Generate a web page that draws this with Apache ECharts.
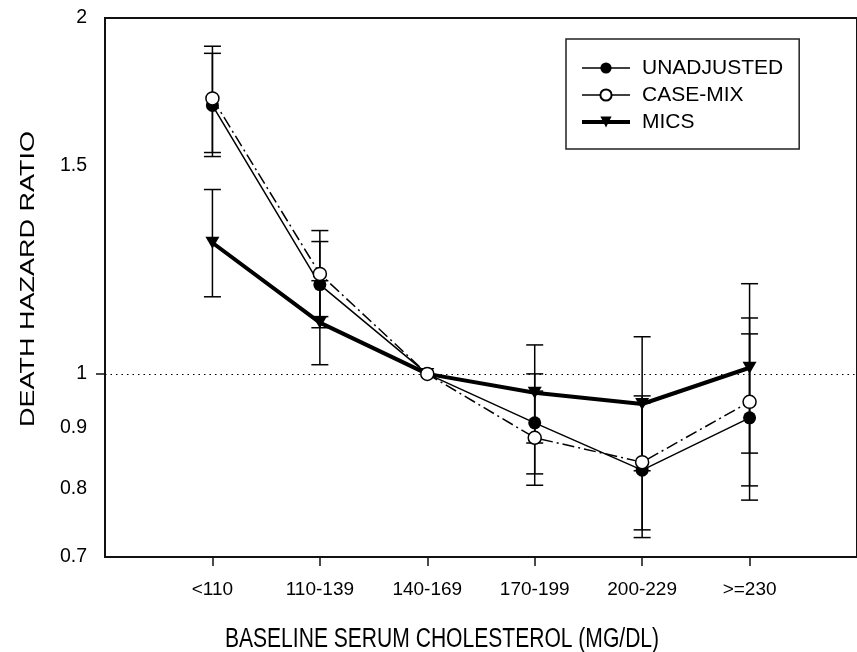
<!DOCTYPE html>
<html lang="en">
<head>
    <meta charset="UTF-8">
    <title>Death hazard ratio</title>
    <script src="https://cdn.jsdelivr.net/npm/echarts@6/dist/echarts.min.js"></script>
    <style>
        html, body { margin: 0; padding: 0; background: #fff; }
    </style>
</head>
<body>
<div id="main" style="width: 857px;height:652px;"></div>
<script>
    var categories = ['<110', '110-139', '140-169', '170-199', '200-229', '>=230'];
    var yTicks = [0.7, 0.8, 0.9, 1, 1.5, 2];

    var unadjusted = [1.687, 1.190, 1.0, 0.909, 0.829, 0.918];
    var unadjLow = [1.527, 1.094, null, 0.823, 0.727, 0.782];
    var unadjHigh = [1.867, 1.294, null, 1.0, 0.945, 1.081];

    var caseMix = [1.710, 1.215, 1.0, 0.883, 0.842, 0.947];
    var caseLow = [1.539, 1.118, null, 0.805, 0.738, 0.804];
    var caseHigh = [1.893, 1.322, null, 0.967, 0.958, 1.115];

    var mics = [1.291, 1.105, 1.0, 0.964, 0.943, 1.012];
    var micsLow = [1.162, 1.018, null, 0.874, 0.828, 0.857];
    var micsHigh = [1.432, 1.199, null, 1.058, 1.075, 1.192];

    var font = "'Liberation Sans', Arial, sans-serif";

    function points(vals) {
        var arr = [];
        for (var i = 0; i < vals.length; i++) {
            arr.push([i + 1, vals[i]]);
        }
        return arr;
    }

    function bars(lo, hi) {
        var arr = [];
        for (var i = 0; i < lo.length; i++) {
            if (lo[i] != null) arr.push([i + 1, lo[i], hi[i]]);
        }
        return arr;
    }

    // vertical bar with caps at both ends
    function errorBar(params, api) {
        var top = api.coord([api.value(0), api.value(2)]);
        var bot = api.coord([api.value(0), api.value(1)]);
        var w = 8.5;
        var st = {stroke: '#000', lineWidth: 1.5};
        return {
            type: 'group',
            children: [
                {type: 'line', shape: {x1: top[0], y1: top[1], x2: bot[0], y2: bot[1]}, style: st},
                {type: 'line', shape: {x1: top[0] - w, y1: top[1], x2: top[0] + w, y2: top[1]}, style: st},
                {type: 'line', shape: {x1: bot[0] - w, y1: bot[1], x2: bot[0] + w, y2: bot[1]}, style: st}
            ]
        };
    }

    var myChart = echarts.init(document.getElementById('main'));
    var option = {
        animation: false,
        backgroundColor: '#fff',
        textStyle: {fontFamily: font, color: '#000'},
        grid: {
            left: 105,
            top: 18,
            right: -11,
            bottom: 95,
            show: true,
            borderColor: '#111',
            borderWidth: 2
        },
        legend: {
            orient: 'vertical',
            left: 566,
            top: 39,
            padding: [18, 16, 16, 14],
            borderColor: '#222',
            borderWidth: 1.5,
            itemWidth: 48,
            itemHeight: 14,
            itemGap: 5,
            textStyle: {fontFamily: font, fontSize: 21, color: '#000', padding: [0, 0, 0, 7], lineHeight: 22},
            data: [
                {name: 'UNADJUSTED', lineStyle: {width: 1.5, type: 'solid'}},
                {name: 'CASE-MIX', lineStyle: {width: 1.5, type: 'solid'}},
                {name: 'MICS', lineStyle: {width: 4, type: 'solid'}}
            ]
        },
        xAxis: {
            type: 'value',
            min: 0,
            max: 7,
            axisLine: {show: true, lineStyle: {color: '#111', width: 2}},
            axisTick: {show: true, length: 9, lineStyle: {color: '#111', width: 1.5}, customValues: [1, 2, 3, 4, 5, 6]},
            axisLabel: {
                margin: 23,
                fontSize: 19,
                color: '#000',
                fontFamily: font,
                customValues: [1, 2, 3, 4, 5, 6],
                formatter: function (v) {
                    return categories[Math.round(v) - 1];
                }
            },
            splitLine: {show: false}
        },
        yAxis: {
            type: 'log',
            logBase: 10,
            min: 0.7,
            max: 2,
            axisLine: {show: true, lineStyle: {color: '#111', width: 2}},
            axisTick: {show: true, length: 9, lineStyle: {color: '#111', width: 1.5}, customValues: [1]},
            axisLabel: {
                margin: 18,
                fontSize: 19.5,
                color: '#000',
                fontFamily: font,
                customValues: yTicks,
                formatter: function (v) {
                    return String(Math.round(v * 10) / 10);
                }
            },
            splitLine: {show: false},
            minorTick: {show: false}
        },
        graphic: [
            {
                type: 'text',
                x: 442,
                y: 640,
                scaleX: 0.78,
                style: {
                    text: 'BASELINE SERUM CHOLESTEROL (MG/DL)',
                    font: '27px ' + font,
                    fill: '#000',
                    align: 'center',
                    verticalAlign: 'middle'
                }
            },
            {
                type: 'text',
                x: 28,
                y: 279,
                rotation: Math.PI / 2,
                scaleY: 0.76,
                style: {
                    text: 'DEATH HAZARD RATIO',
                    font: '27px ' + font,
                    fill: '#000',
                    align: 'center',
                    verticalAlign: 'middle'
                }
            }
        ],
        series: [
            {
                type: 'custom',
                name: 'unadjBars',
                renderItem: errorBar,
                data: bars(unadjLow, unadjHigh),
                z: 1,
                silent: true
            },
            {
                type: 'custom',
                name: 'caseBars',
                renderItem: errorBar,
                data: bars(caseLow, caseHigh),
                z: 1,
                silent: true
            },
            {
                type: 'custom',
                name: 'micsBars',
                renderItem: errorBar,
                data: bars(micsLow, micsHigh),
                z: 1,
                silent: true
            },
            {
                name: 'MICS',
                type: 'line',
                data: points(mics),
                symbol: 'triangle',
                symbolRotate: 180,
                symbolSize: [14, 12],
                itemStyle: {color: '#000', borderWidth: 0},
                lineStyle: {color: '#000', width: 4},
                z: 3,
                markLine: {
                    silent: true,
                    symbol: 'none',
                    label: {show: false},
                    lineStyle: {color: '#000', type: [1.5, 4], width: 1.2},
                    data: [{yAxis: 1}]
                }
            },
            {
                name: 'UNADJUSTED',
                type: 'line',
                data: points(unadjusted),
                symbol: 'circle',
                symbolSize: 13,
                itemStyle: {color: '#000', borderWidth: 0},
                lineStyle: {color: '#000', width: 1.5},
                z: 4
            },
            {
                name: 'CASE-MIX',
                type: 'line',
                data: points(caseMix),
                symbol: 'circle',
                symbolSize: 13,
                itemStyle: {color: '#fff', borderColor: '#000', borderWidth: 1.5},
                lineStyle: {color: '#000', width: 1.5, type: [12, 4, 2, 4]},
                z: 5
            }
        ]
    };
    myChart.setOption(option);
</script>
</body>
</html>
